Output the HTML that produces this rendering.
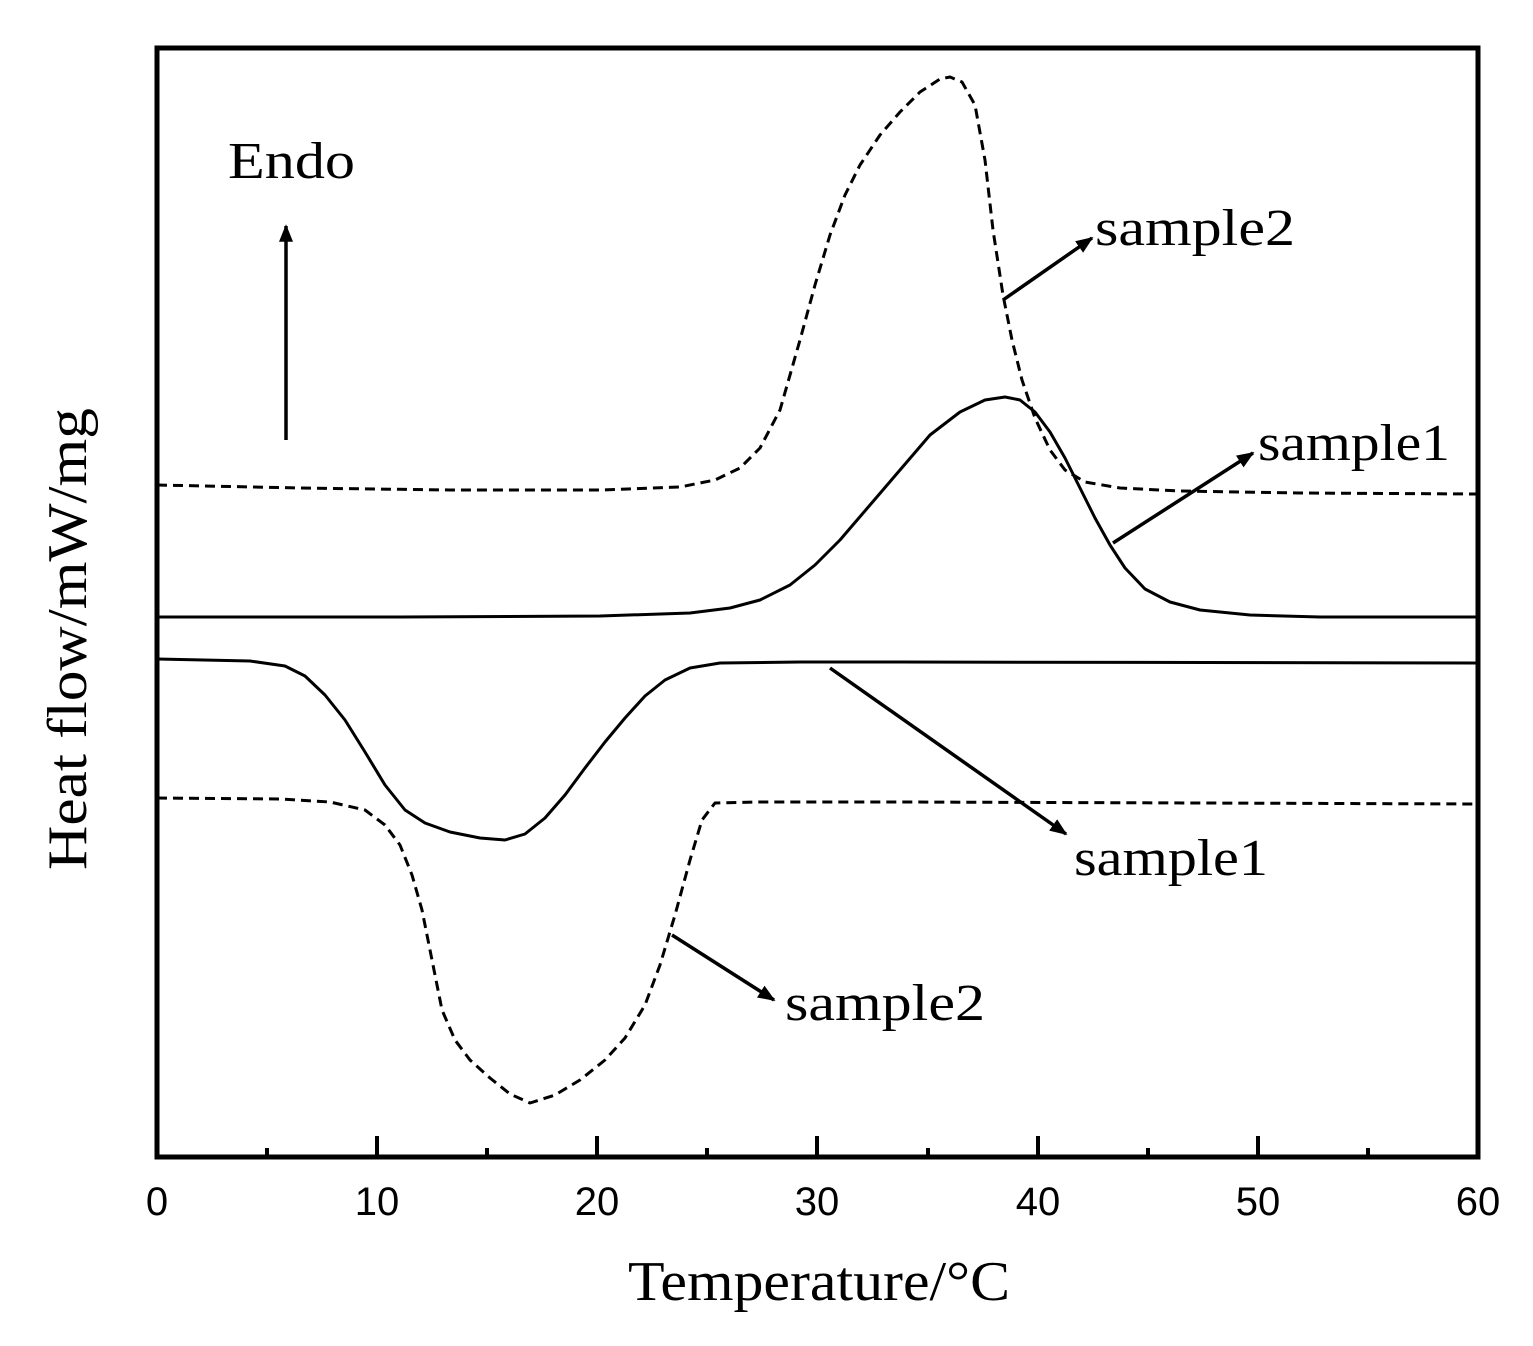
<!DOCTYPE html>
<html><head><style>html,body{margin:0;padding:0;background:#fff}</style></head><body>
<svg width="1533" height="1341" viewBox="0 0 1533 1341" xmlns="http://www.w3.org/2000/svg">
<defs><marker id="ah" viewBox="0 0 10 10" refX="9" refY="5" markerWidth="5" markerHeight="5" orient="auto"><path d="M0,1 L10,5 L0,9 Z" fill="#000"/></marker></defs>
<rect x="157" y="48" width="1321" height="1109" fill="none" stroke="#000" stroke-width="5"/>
<g stroke="#000" stroke-width="4">
<line x1="377" y1="1157" x2="377" y2="1136"/><line x1="597" y1="1157" x2="597" y2="1136"/><line x1="817" y1="1157" x2="817" y2="1136"/><line x1="1038" y1="1157" x2="1038" y2="1136"/><line x1="1258" y1="1157" x2="1258" y2="1136"/>
<line x1="267" y1="1157" x2="267" y2="1148"/><line x1="487" y1="1157" x2="487" y2="1148"/><line x1="707" y1="1157" x2="707" y2="1148"/><line x1="928" y1="1157" x2="928" y2="1148"/><line x1="1148" y1="1157" x2="1148" y2="1148"/><line x1="1368" y1="1157" x2="1368" y2="1148"/>
</g>
<g font-family="Liberation Sans, sans-serif" font-size="40" text-anchor="middle">
<text x="157" y="1215">0</text><text x="377" y="1215">10</text><text x="597" y="1215">20</text><text x="817" y="1215">30</text><text x="1038" y="1215">40</text><text x="1258" y="1215">50</text><text x="1478" y="1215">60</text>
</g>
<text x="628" y="1300" font-family="Liberation Serif, serif" font-size="56" textLength="382" lengthAdjust="spacingAndGlyphs">Temperature/°C</text>
<text transform="translate(86,870) rotate(-90)" font-family="Liberation Serif, serif" font-size="56" textLength="462" lengthAdjust="spacingAndGlyphs">Heat flow/mW/mg</text>
<g fill="none" stroke="#000" stroke-width="3" stroke-linejoin="round">
<polyline stroke-dasharray="10,6" points="157,485 300,488 450,490 600,490 680,487 715,480 740,468 760,448 780,410 800,340 815,285 830,235 845,195 860,165 880,135 900,112 920,92 940,79 950,77 962,82 975,105 985,160 993,230 1003,295 1012,340 1022,380 1035,418 1050,450 1065,470 1085,482 1120,488 1180,491 1300,493 1478,494"/>
<polyline points="157,617 400,617 600,616 690,613 730,608 760,600 790,585 815,565 840,540 870,505 900,470 930,435 960,412 985,400 1005,397 1020,400 1035,412 1050,432 1065,458 1080,488 1095,518 1110,545 1125,568 1145,589 1170,602 1200,610 1250,615 1320,617 1478,617"/>
<polyline points="157,659 250,661 285,666 305,676 325,695 345,720 365,752 385,785 405,810 425,823 450,832 480,838 505,840 525,834 545,818 565,795 585,768 605,742 625,718 645,696 665,680 690,668 720,663 800,662 900,662 1478,663"/>
<polyline stroke-dasharray="10,6" points="157,798 280,799 330,802 365,810 385,825 400,845 412,875 422,910 432,960 442,1010 455,1040 470,1060 490,1078 510,1094 530,1103 555,1095 580,1080 605,1060 625,1038 645,1005 660,965 675,915 690,860 702,820 715,803 760,802 900,802 1200,803 1478,804"/>
</g>
<g stroke="#000" stroke-width="3.5" marker-end="url(#ah)">
<line x1="286" y1="440" x2="286" y2="226"/>
<line x1="1003" y1="300" x2="1092" y2="238"/>
<line x1="1113" y1="543" x2="1253" y2="453"/>
<line x1="830" y1="668" x2="1066" y2="834"/>
<line x1="672" y1="935" x2="774" y2="1000"/>
</g>
<g font-family="Liberation Serif, serif" font-size="52" lengthAdjust="spacingAndGlyphs">
<text x="228" y="178" textLength="127" lengthAdjust="spacingAndGlyphs">Endo</text>
<text x="1095" y="245" textLength="200" lengthAdjust="spacingAndGlyphs">sample2</text>
<text x="1258" y="460" textLength="192" lengthAdjust="spacingAndGlyphs">sample1</text>
<text x="1074" y="875" textLength="194" lengthAdjust="spacingAndGlyphs">sample1</text>
<text x="785" y="1020" textLength="200" lengthAdjust="spacingAndGlyphs">sample2</text>
</g>
</svg>
</body></html>
